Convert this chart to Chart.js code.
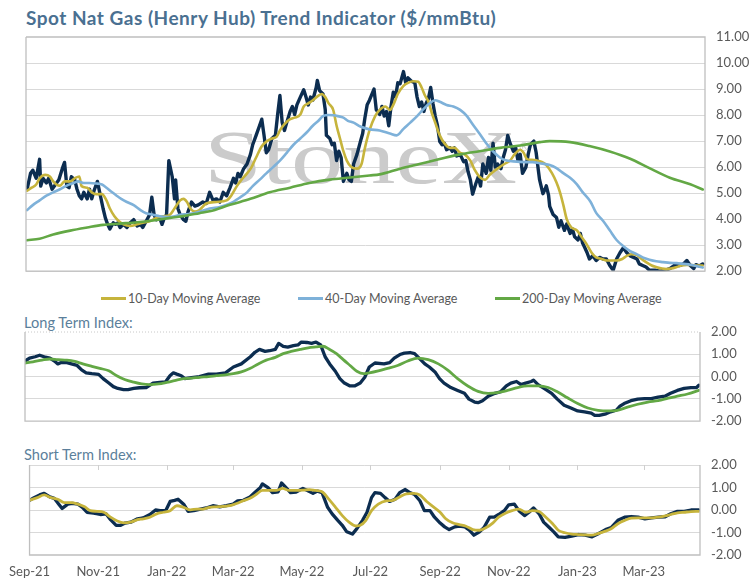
<!DOCTYPE html>
<html>
<head>
<meta charset="utf-8">
<script src="https://cdn.jsdelivr.net/npm/chart.js@4.4.0/dist/chart.umd.min.js"></script>
<style>
  html,body{margin:0;padding:0;background:#fff;}
  body{width:756px;height:582px;overflow:hidden;position:relative;font-family:Lato,"Open Sans",sans-serif;}
  .cv{position:absolute;left:0;}
  #title{position:absolute;left:26px;top:6px;font-weight:bold;font-size:19px;color:#4a7091;white-space:nowrap;letter-spacing:0.5px;}
  .sub{position:absolute;left:24px;font-size:14.6px;color:#5b7f9b;white-space:nowrap;}
  .lg{position:absolute;top:290px;font-size:12.5px;color:#595959;white-space:nowrap;display:flex;align-items:center;height:16px;}
  .lg i{display:inline-block;width:25px;height:3px;margin-right:2px;}
</style>
</head>
<body>
<div id="title">Spot Nat Gas (Henry Hub) Trend Indicator ($/mmBtu)</div>
<canvas id="c1" class="cv" style="top:0" width="756" height="290"></canvas>
<div class="lg" style="left:101px"><i style="background:#c6b43c"></i>10-Day Moving Average</div>
<div class="lg" style="left:298px"><i style="background:#7eb1d9"></i>40-Day Moving Average</div>
<div class="lg" style="left:495px"><i style="background:#63a845"></i>200-Day Moving Average</div>
<div class="sub" style="top:314px">Long Term Index:</div>
<canvas id="c2" class="cv" style="top:300px" width="756" height="140"></canvas>
<div class="sub" style="top:446px">Short Term Index:</div>
<canvas id="c3" class="cv" style="top:440px" width="756" height="142"></canvas>
<script>
// ---------- x axis (days since 1 Sep 2021) ----------
const monthLabels = ['Sep-21','Nov-21','Jan-22','Mar-22','May-22','Jul-22','Sep-22','Nov-22','Jan-23','Mar-23'];
const monthDays   = [0, 61, 122, 181, 242, 303, 365, 426, 487, 546];
const priceTicks  = [2,3,4,5,6,7,8,9,10,11];
const indexTicks  = [-2,-1,0,1,2];

// ---------- Spot price ----------
const spotDays = [1,4,6,9,12,13,15,18,20,23,26,29,32,34,36,38,40,43,45,47,49,51,54,56,58,60,63,65,68,70,72,74,77,79,81,83,86,89,92,95,98,101,103,106,109,111,113,115,118,120,122,124,126,129,131,132,134,136,139,141,143,146,149,152,156,159,162,165,168,171,174,177,180,183,185,187,189,192,195,198,200,203,206,208,210,212,214,217,220,222,224,226,228,230,233,235,237,239,242,245,247,249,251,253,256,257,259,262,264,265,268,270,272,274,276,278,280,283,285,287,289,292,295,297,299,301,303,307,309,312,314,316,318,320,322,324,326,328,330,333,335,337,340,343,345,347,349,351,353,355,357,359,361,363,365,367,369,371,374,376,378,380,383,386,388,390,392,394,397,399,401,403,406,408,410,412,414,416,419,421,423,425,427,430,432,434,436,438,441,443,445,448,450,453,456,458,459,461,462,465,468,470,472,475,477,480,482,484,487,489,491,493,495,497,500,503,506,509,512,515,518,521,524,527,530,533,536,539,541,544,547,550,555,559,564,568,572,577,580,583,586,589,591,594,597];
const spotValues = [5.15,5.76,5.88,5.57,6.30,5.27,5.57,5.39,5.57,5.15,5.33,5.51,5.94,6.18,5.27,5.21,5.63,5.51,5.15,4.90,4.78,5.03,4.78,5.15,4.78,5.09,5.45,5.03,4.41,4.05,3.80,3.62,3.86,3.80,3.86,3.68,3.80,3.68,3.86,3.98,3.74,3.80,3.68,3.92,4.17,4.84,4.17,3.98,4.05,3.80,4.05,4.17,6.25,5.63,4.78,5.51,4.41,4.17,3.98,3.92,4.29,4.66,4.50,4.55,4.66,4.60,5.03,4.72,4.78,4.66,5.03,4.90,5.21,5.57,5.39,5.76,5.63,5.94,6.12,6.49,6.86,7.22,7.59,7.84,7.22,6.55,6.67,7.10,7.22,8.02,8.75,7.71,7.41,7.71,8.14,8.33,8.02,8.39,8.69,8.97,8.69,8.39,8.69,8.57,9.06,9.33,8.94,8.81,8.20,7.22,7.10,6.86,6.92,6.25,6.61,6.37,5.45,5.76,5.51,5.45,6.12,6.49,6.98,7.29,7.90,8.40,8.57,9.00,8.20,8.02,8.33,7.96,8.14,7.59,8.33,8.88,8.69,9.24,9.20,9.67,9.24,9.43,9.30,9.24,8.69,8.33,8.50,8.14,8.45,8.63,9.06,8.45,7.96,7.59,6.98,6.86,6.92,6.67,6.74,6.61,6.74,6.43,6.49,6.21,6.25,5.82,5.51,4.96,5.39,5.63,5.27,6.12,5.76,6.37,5.88,6.92,6.00,6.12,5.94,6.37,6.67,7.22,6.92,6.61,6.74,6.25,6.49,5.76,6.00,6.49,6.86,7.00,6.57,5.53,4.98,5.16,5.28,4.92,4.49,4.18,4.06,3.69,3.94,3.57,3.81,3.45,3.63,3.32,3.20,3.45,3.08,2.90,2.71,2.47,2.59,2.41,2.53,2.47,2.47,2.22,2.04,2.47,2.71,2.90,2.71,2.59,2.53,2.47,2.28,2.22,2.16,2.04,2.04,2.00,2.04,2.10,2.22,2.22,2.28,2.41,2.22,2.10,2.25,2.20,2.28];

// ---------- 10-day moving average ----------
const ma10Days = [1,5,9,12,17,21,24,27,30,34,39,43,47,49,54,58,62,67,71,74,78,82,86,92,98,103,109,115,121,127,131,136,139,142,145,149,153,159,168,177,181,186,190,195,199,203,208,212,217,221,224,228,233,237,242,245,249,253,258,261,264,267,271,274,277,280,283,287,292,296,299,303,308,312,317,321,324,328,333,337,342,346,349,352,355,358,361,365,369,374,378,383,387,392,396,400,405,409,414,418,422,427,431,436,439,442,446,450,455,459,464,468,471,474,477,481,486,490,494,499,503,508,512,517,521,526,530,534,539,543,547,552,556,561,565,569,574,578,583,587,591,597];
const ma10Values = [5.09,5.21,5.33,5.57,5.70,5.64,5.45,5.33,5.29,5.45,5.45,5.57,5.64,5.27,5.21,5.03,4.96,4.96,4.72,4.41,4.11,3.92,3.80,3.74,3.80,3.86,3.92,4.05,4.11,4.17,4.41,4.72,4.78,4.66,4.41,4.29,4.35,4.60,4.66,4.72,4.90,5.27,5.51,5.76,6.00,6.37,6.80,6.98,7.10,7.16,7.41,7.65,7.84,7.90,8.02,8.33,8.45,8.57,8.75,8.81,8.69,8.45,8.20,7.59,7.10,6.61,6.25,6.00,5.94,6.12,6.74,7.41,7.96,8.20,8.33,8.20,8.39,8.81,9.12,9.24,9.30,9.28,9.06,8.75,8.51,8.08,7.71,7.22,6.92,6.74,6.74,6.55,6.49,6.25,5.88,5.63,5.51,5.70,5.88,6.00,6.12,6.25,6.49,6.67,6.55,6.31,6.28,6.26,6.20,6.08,5.77,5.41,5.04,4.55,4.00,3.69,3.57,3.32,3.08,2.71,2.53,2.47,2.41,2.41,2.41,2.47,2.59,2.65,2.62,2.47,2.35,2.22,2.16,2.10,2.08,2.10,2.16,2.22,2.24,2.24,2.22,2.22];

// ---------- 40-day moving average ----------
const ma40Days = [1,6,12,18,24,30,36,42,46,51,56,62,67,71,76,80,84,89,95,101,106,112,118,124,130,136,142,148,153,162,171,180,189,195,200,206,212,218,224,230,236,242,248,253,258,262,267,271,275,280,284,289,295,303,312,321,327,333,339,345,350,356,361,365,371,377,383,389,394,400,406,412,418,424,430,436,442,447,453,462,468,474,480,486,491,498,503,509,515,521,527,533,539,544,550,556,562,568,574,580,586,591,597];
const ma40Values = [4.35,4.54,4.72,4.90,5.03,5.15,5.29,5.39,5.45,5.39,5.39,5.37,5.33,5.21,5.03,4.90,4.78,4.66,4.54,4.35,4.23,4.17,4.11,4.08,4.10,4.17,4.19,4.23,4.28,4.41,4.47,4.60,4.84,5.03,5.27,5.51,5.76,6.00,6.25,6.55,6.86,7.10,7.35,7.59,7.78,7.96,8.00,7.99,7.96,7.90,7.78,7.71,7.56,7.45,7.41,7.29,7.22,7.47,7.71,7.96,8.20,8.45,8.57,8.51,8.39,8.33,8.20,7.96,7.65,7.29,6.92,6.61,6.37,6.25,6.22,6.20,6.19,6.19,6.15,6.08,5.96,5.77,5.59,5.34,5.04,4.67,4.24,3.94,3.57,3.20,2.96,2.77,2.65,2.53,2.44,2.38,2.35,2.32,2.31,2.28,2.25,2.20,2.14];

// ---------- 200-day moving average ----------
const ma200Days = [1,12,24,39,54,68,83,98,112,127,142,153,162,180,198,215,233,250,268,286,303,312,330,347,365,383,400,418,436,453,462,480,497,515,533,550,568,586,597];
const ma200Values = [3.19,3.25,3.41,3.56,3.68,3.78,3.83,3.88,3.95,4.05,4.14,4.23,4.30,4.55,4.78,5.03,5.21,5.39,5.52,5.60,5.68,5.72,5.94,6.12,6.31,6.49,6.61,6.74,6.83,6.96,7.00,6.96,6.81,6.60,6.32,5.96,5.59,5.34,5.14];

// ---------- Long term index ----------
const ltIndexDays = [0,4,9,13,18,22,26,29,32,37,41,46,50,54,59,65,69,74,78,82,87,91,96,101,107,113,119,124,128,131,134,138,141,147,154,162,169,177,184,191,199,203,207,212,216,221,224,228,232,237,241,244,249,253,257,261,265,269,274,278,282,287,291,296,300,304,309,317,322,326,331,335,340,344,348,353,357,362,366,370,376,382,388,392,397,400,404,409,415,420,425,429,434,438,442,447,449,453,459,465,470,476,482,488,494,500,503,507,513,517,522,525,529,535,541,547,553,559,565,570,576,582,588,593,595];
const ltIndexValues = [0.70,0.83,0.89,0.96,0.87,0.83,0.70,0.57,0.63,0.63,0.57,0.50,0.30,0.17,0.13,0.10,-0.09,-0.29,-0.45,-0.53,-0.58,-0.58,-0.53,-0.50,-0.49,-0.29,-0.26,-0.24,0.04,0.17,0.11,0.04,-0.09,-0.05,0.00,0.11,0.11,0.17,0.43,0.57,0.89,1.09,1.22,1.13,1.16,1.22,1.49,1.36,1.32,1.39,1.42,1.55,1.53,1.49,1.55,1.42,0.89,0.57,0.24,-0.09,-0.29,-0.42,-0.42,-0.29,-0.03,0.43,0.61,0.57,0.63,0.83,0.99,1.05,1.08,1.03,0.83,0.57,0.43,0.21,-0.09,-0.29,-0.49,-0.62,-0.75,-1.01,-1.14,-1.17,-1.08,-0.88,-0.75,-0.68,-0.42,-0.29,-0.22,-0.36,-0.29,-0.22,-0.16,-0.36,-0.55,-0.75,-1.01,-1.28,-1.41,-1.54,-1.58,-1.64,-1.74,-1.74,-1.67,-1.58,-1.51,-1.34,-1.21,-1.08,-1.01,-0.99,-0.99,-0.92,-0.88,-0.75,-0.62,-0.53,-0.49,-0.49,-0.39];
const ltAvgDays = [0,7,15,22,29,37,44,51,59,66,74,81,88,96,103,110,118,125,132,140,147,154,162,169,177,184,191,199,206,213,221,228,235,243,250,257,263,269,275,281,287,293,299,304,312,320,329,338,347,356,365,373,382,391,400,409,417,426,435,444,453,462,470,479,488,497,506,515,523,532,541,550,559,568,576,585,595];
const ltAvgValues = [0.61,0.66,0.74,0.79,0.76,0.74,0.68,0.57,0.46,0.37,0.26,0.04,-0.13,-0.25,-0.33,-0.36,-0.33,-0.26,-0.18,-0.09,-0.07,-0.03,0.00,0.04,0.08,0.13,0.21,0.37,0.57,0.74,0.86,1.03,1.13,1.22,1.29,1.33,1.36,1.22,1.03,0.76,0.50,0.24,0.13,0.17,0.26,0.37,0.50,0.70,0.83,0.76,0.57,0.30,-0.09,-0.42,-0.66,-0.75,-0.72,-0.62,-0.49,-0.42,-0.42,-0.49,-0.68,-0.95,-1.21,-1.41,-1.51,-1.54,-1.51,-1.37,-1.24,-1.14,-1.08,-0.97,-0.88,-0.78,-0.62];

// ---------- Short term index ----------
const stIndexDays = [0,4,9,13,18,22,26,29,34,38,43,47,51,57,63,68,72,77,81,85,90,96,101,107,112,116,121,125,129,132,137,141,146,152,157,163,169,175,181,185,190,196,200,205,207,212,216,221,224,228,232,237,243,247,252,256,260,265,269,274,278,282,287,291,296,300,304,307,312,316,320,325,329,334,338,342,347,351,356,360,365,369,373,378,382,387,391,395,400,404,409,413,417,422,426,431,435,440,444,448,453,457,462,466,470,476,482,488,494,500,506,512,517,523,529,535,541,547,553,559,565,570,576,582,588,595];
const stIndexValues = [0.43,0.55,0.67,0.74,0.58,0.52,0.26,0.07,0.26,0.29,0.26,0.12,-0.10,-0.14,-0.20,-0.17,-0.43,-0.68,-0.68,-0.58,-0.54,-0.39,-0.35,-0.20,0.00,-0.03,-0.03,0.38,0.43,0.48,0.26,-0.06,-0.03,0.04,0.09,0.19,0.14,0.19,0.26,0.41,0.43,0.58,0.77,0.99,1.16,0.99,0.77,0.81,1.20,0.99,0.77,0.80,0.96,0.87,0.74,0.84,0.77,0.12,-0.17,-0.46,-0.68,-0.97,-1.07,-0.83,-0.46,-0.10,0.55,0.77,0.74,0.55,0.38,0.48,0.77,0.91,0.77,0.70,0.41,-0.03,-0.03,-0.32,-0.58,-0.75,-0.87,-0.75,-0.72,-0.75,-0.90,-1.12,-0.97,-0.78,-0.32,-0.32,-0.20,-0.03,0.23,0.26,-0.03,-0.25,-0.10,0.09,-0.17,-0.54,-0.78,-0.97,-1.19,-1.22,-1.16,-1.09,-1.12,-1.19,-1.04,-0.87,-0.78,-0.46,-0.32,-0.29,-0.32,-0.39,-0.35,-0.32,-0.30,-0.17,-0.06,-0.06,0.00,0.00];
const stAvgDays = [0,7,13,19,25,31,37,43,49,54,60,66,72,78,84,90,96,101,107,113,119,125,131,137,143,149,154,160,166,172,178,184,190,196,201,207,213,219,225,231,237,243,249,254,260,266,272,278,284,290,294,299,304,310,317,323,329,335,341,347,353,359,365,370,376,382,388,394,400,406,412,417,423,429,435,441,447,453,459,465,470,476,482,488,494,500,506,512,517,523,529,535,541,547,553,559,565,570,576,582,588,595];
const stAvgValues = [0.43,0.55,0.67,0.55,0.48,0.33,0.33,0.26,0.14,-0.03,-0.06,-0.10,-0.32,-0.49,-0.57,-0.54,-0.43,-0.39,-0.32,-0.17,-0.10,-0.03,0.19,0.12,0.01,0.04,0.04,0.12,0.14,0.16,0.19,0.29,0.41,0.52,0.67,0.87,0.87,0.87,0.96,0.87,0.87,0.88,0.91,0.87,0.81,0.48,0.12,-0.25,-0.54,-0.71,-0.68,-0.46,-0.03,0.26,0.41,0.43,0.58,0.72,0.74,0.67,0.38,0.14,-0.10,-0.39,-0.57,-0.65,-0.72,-0.87,-0.90,-0.78,-0.57,-0.32,-0.14,-0.03,0.04,-0.10,-0.03,-0.07,-0.32,-0.61,-0.90,-1.01,-1.07,-1.09,-1.11,-1.12,-1.04,-0.94,-0.83,-0.61,-0.46,-0.36,-0.35,-0.35,-0.35,-0.32,-0.26,-0.20,-0.13,-0.10,-0.07,-0.06];

// ---------- helpers ----------
const NAVY = '#0c2d50', GOLD = '#c6b43c', BLUE = '#7eb1d9', GREEN = '#63a845';
const pts = (d, v) => d.map((x, i) => ({x, y: v[i]}));
const tickFont = {family: 'Lato', size: 13};
const tickColor = '#595959';

function line(label, days, vals, color, width, smooth) {
  return {label, data: pts(days, vals), borderColor: color, backgroundColor: color,
    borderWidth: width, pointRadius: 0, fill: false,
    cubicInterpolationMode: smooth ? 'monotone' : 'default', tension: 0,
    borderJoinStyle: 'round', borderCapStyle: 'round'};
}

const framePlugin = {
  id: 'frame',
  afterDraw(chart, args, opts) {
    const {ctx, chartArea: a} = chart;
    ctx.save();
    ctx.lineWidth = 1.3;
    ctx.strokeStyle = '#bfbfbf';
    ctx.beginPath();
    ctx.moveTo(a.left, a.top); ctx.lineTo(a.left, a.bottom);
    ctx.lineTo(a.right, a.bottom); ctx.lineTo(a.right, a.top);
    if (opts.top === 'solid') ctx.lineTo(a.left, a.top);
    ctx.stroke();
    if (opts.top === 'dotted') {
      ctx.setLineDash([1, 2]);
      ctx.strokeStyle = '#c8c8c8';
      ctx.lineWidth = 1;
      ctx.beginPath(); ctx.moveTo(a.left, a.top); ctx.lineTo(a.right, a.top); ctx.stroke();
    }
    ctx.restore();
  }
};

const watermarkPlugin = {
  id: 'watermark',
  beforeDatasetsDraw(chart) {
    const {ctx} = chart;
    ctx.save();
    ctx.font = '76px "Liberation Serif"';
    ctx.fillStyle = '#cbcbcb';
    ctx.textBaseline = 'alphabetic';
    const w = ctx.measureText('StoneX').width;
    ctx.translate(204, 183);
    ctx.scale(313 / w, 1);
    ctx.fillText('StoneX', 0, 0);
    ctx.restore();
    ctx.save();
    ctx.font = '12px "DejaVu Sans"';
    ctx.fillStyle = '#cbcbcb';
    ctx.fillText('\u00AE', 518, 151);
    ctx.restore();
  }
};

const topTicksPlugin = {
  id: 'topTicks',
  beforeDatasetsDraw(chart, args, opts) {
    if (!opts.on) return;
    const {ctx, chartArea: a, scales} = chart;
    ctx.save();
    ctx.strokeStyle = '#cfcfcf';
    ctx.lineWidth = 1;
    monthDays.forEach(d => {
      const x = Math.round(scales.x.getPixelForValue(d)) + 0.5;
      if (x <= a.left + 2) return;
      ctx.beginPath(); ctx.moveTo(x, a.top); ctx.lineTo(x, a.top + 5); ctx.stroke();
    });
    ctx.restore();
  }
};

function yAxis(min, max, width, ticksArr, hideEdges) {
  return {
    position: 'right', min, max,
    afterBuildTicks: s => { s.ticks = ticksArr.map(v => ({value: v})); },
    afterFit: s => { s.width = width; },
    ticks: {font: tickFont, color: tickColor, padding: 11, callback: v => Number(v).toFixed(2)},
    grid: {drawTicks: false, lineWidth: 1,
      color: c => (hideEdges.includes(c.tick && c.tick.value) ? 'rgba(0,0,0,0)' : '#d9d9d9')},
    border: {display: false}
  };
}

function baseOptions(padding, xMax, yCfg, frameTop, xVisible, topTicks) {
  return {
    responsive: false, animation: false, maintainAspectRatio: false,
    layout: {padding},
    plugins: {legend: {display: false}, tooltip: {enabled: false},
      frame: {top: frameTop}, topTicks: {on: topTicks}},
    scales: {
      x: xVisible ? {
        type: 'linear', min: 0, max: xMax,
        afterBuildTicks: s => { s.ticks = monthDays.map(v => ({value: v})); },
        afterFit: s => { s.height = 27; },
        ticks: {font: tickFont, color: tickColor, padding: 9, maxRotation: 0, autoSkip: false,
          callback: v => monthLabels[monthDays.indexOf(v)]},
        grid: {display: false, drawTicks: false}, border: {display: false}
      } : {type: 'linear', min: 0, max: xMax, display: false},
      y: yCfg
    }
  };
}

Chart.register(framePlugin, topTicksPlugin);

new Chart(document.getElementById('c1'), {
  type: 'line',
  data: {datasets: [
    line('200-Day Moving Average', ma200Days, ma200Values, GREEN, 2.6, true),
    line('40-Day Moving Average', ma40Days, ma40Values, BLUE, 2.6, true),
    line('10-Day Moving Average', ma10Days, ma10Values, GOLD, 2.6, true),
    line('Spot', spotDays, spotValues, NAVY, 3.4, false)
  ]},
  options: baseOptions({left: 26, top: 37, right: 0, bottom: 7}, 599,
    yAxis(2, 11, 51, priceTicks, [11]), 'solid', false, false),
  plugins: [watermarkPlugin]
});

new Chart(document.getElementById('c2'), {
  type: 'line',
  data: {datasets: [
    line('Long Term Average', ltAvgDays, ltAvgValues, GREEN, 2.8, true),
    line('Long Term Index', ltIndexDays, ltIndexValues, NAVY, 3.3, false)
  ]},
  options: baseOptions({left: 25, top: 32, right: 0, bottom: 7}, 596,
    yAxis(-2, 2, 56, indexTicks, [2, -2]), 'dotted', false, false)
});

new Chart(document.getElementById('c3'), {
  type: 'line',
  data: {datasets: [
    line('Short Term Average', stAvgDays, stAvgValues, GOLD, 2.8, true),
    line('Short Term Index', stIndexDays, stIndexValues, NAVY, 3.3, false)
  ]},
  options: baseOptions({left: 25, top: 25, right: 0, bottom: 0}, 596,
    yAxis(-2, 2, 56, indexTicks, [-2]), 'none', true, true)
});
</script>
</body>
</html>
